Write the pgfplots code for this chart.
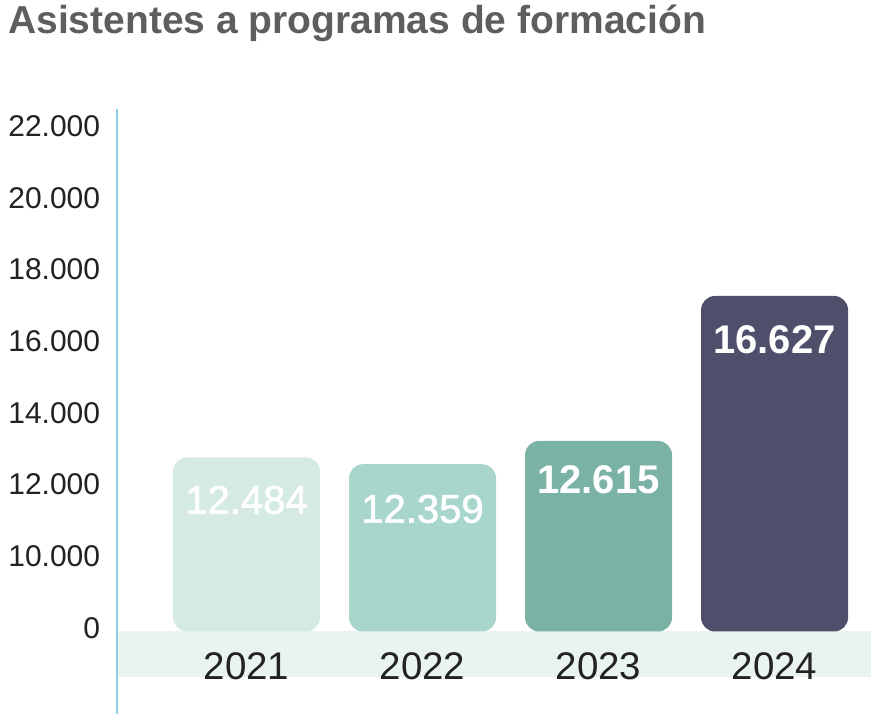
\documentclass[border=0pt]{standalone}
\usepackage{pgfplots}
\pgfplotsset{compat=1.18}
\usepackage{fontspec}
\setmainfont{Liberation Sans}
\newfontfamily\medfont[FakeBold=1.5]{Liberation Sans}
\definecolor{titlec}{HTML}{5E5E5E}
\definecolor{tickc}{HTML}{222222}
\definecolor{axisblue}{HTML}{8ECFEA}
\definecolor{bandc}{HTML}{E9F4EF}
\definecolor{barA}{HTML}{D5EAE2}
\definecolor{barB}{HTML}{A8D6CC}
\definecolor{barC}{HTML}{7AB2A6}
\definecolor{barD}{HTML}{4E4F6A}
\pgfdeclarelayer{background}
\pgfsetlayers{background,main}
\begin{document}
\begin{tikzpicture}
\useasboundingbox (0pt,0pt) rectangle (892pt,714pt);
\node[anchor=base west, inner sep=0pt, text=titlec, font=\fontsize{39}{44}\selectfont\bfseries] at (8pt,680pt) {Asistentes a programas de formación};
\begin{axis}[
  at={(117pt,82.5pt)}, anchor=south west,
  scale only axis, width=754pt, height=522.5pt,
  xmin=-0.7358, xmax=3.548, ymin=7900, ymax=22474,
  scaled y ticks=false, scaled x ticks=false,
  ybar, bar width=0.835, bar shift=0pt,
  axis line style={draw=none},
  tick style={draw=none},
  xtick={0,1,2,3}, xticklabels={2021,2022,2023,2024},
  ytick={8000,10000,12000,14000,16000,18000,20000,22000},
  yticklabels={0,10.000,12.000,14.000,16.000,18.000,20.000,22.000},
  xticklabel style={font=\fontsize{38.5}{40}\selectfont, text=tickc, anchor=base, inner sep=0pt, yshift=-43.5pt},
  yticklabel style={font=\fontsize{30}{32}\selectfont, text=tickc, anchor=east, inner sep=0pt, xshift=-16.7pt},
  point meta=explicit symbolic,
  nodes near coords,
  every node near coord/.append style={anchor=center, text=white, inner sep=0pt},
]
\addplot[fill=barA, draw=none, rounded corners=14pt,
  every node near coord/.append style={yshift=-42.5pt, font=\fontsize{40}{42}\selectfont\medfont}]
  coordinates {(0,12755) [12.484]};
\addplot[fill=barB, draw=none, rounded corners=14pt,
  every node near coord/.append style={yshift=-44.7pt, font=\fontsize{40}{42}\selectfont\medfont}]
  coordinates {(1,12566) [12.359]};
\addplot[fill=barC, draw=none, rounded corners=14pt,
  every node near coord/.append style={yshift=-38.5pt, font=\fontsize{40}{42}\selectfont\bfseries}]
  coordinates {(2,13215) [12.615]};
\addplot[fill=barD, draw=none, rounded corners=14pt,
  every node near coord/.append style={yshift=-44pt, font=\fontsize{40}{42}\selectfont\bfseries}]
  coordinates {(3,17259) [16.627]};
\end{axis}
\begin{pgfonlayer}{background}
\fill[bandc] (117pt,37.3pt) rectangle (871pt,82.5pt);
\end{pgfonlayer}
\draw[axisblue, line width=1.6pt] (116.7pt,605pt) -- (116.7pt,0pt);
\end{tikzpicture}
\end{document}
